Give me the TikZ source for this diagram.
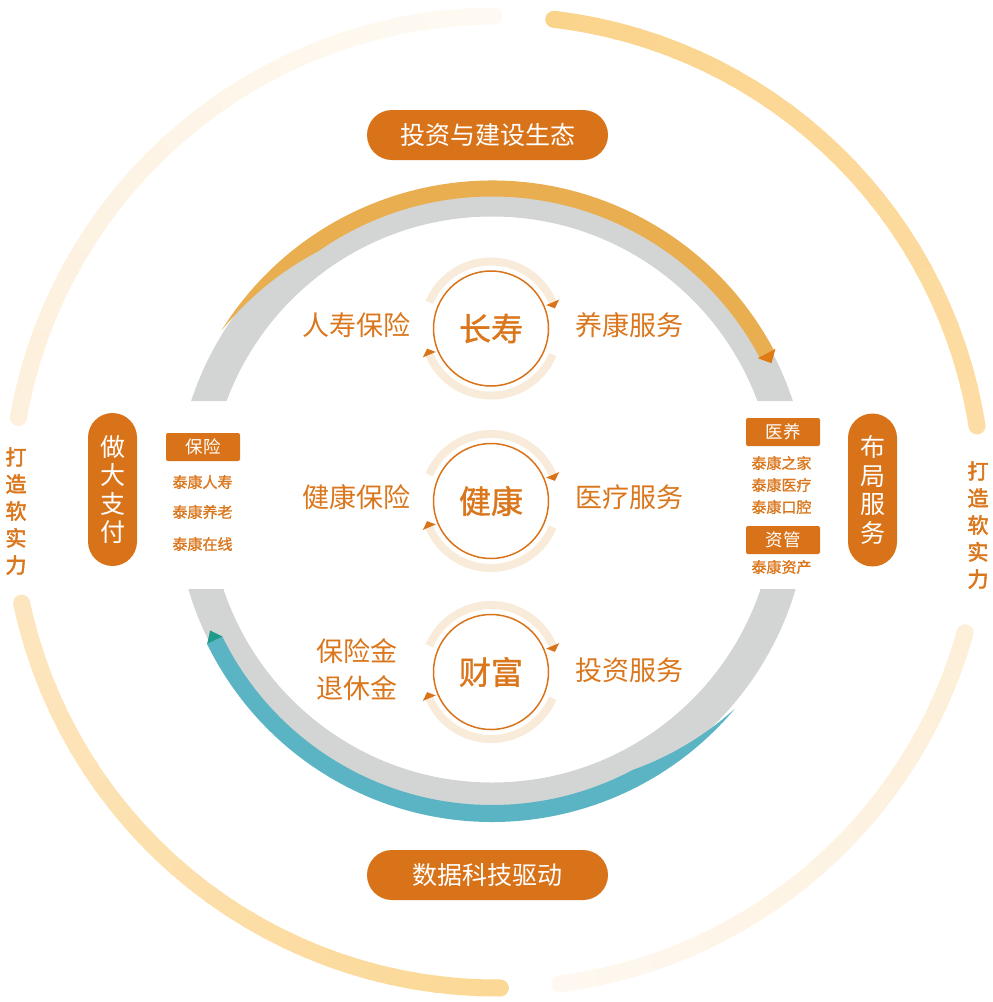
\documentclass[tikz,border=0pt]{standalone}
\usepackage{fontspec}
\newfontfamily\cjk{Noto Sans CJK SC}
\newfontfamily\cjkb[FakeBold=1.2]{Noto Sans CJK SC}
\newfontfamily\cjkbb[FakeBold=2.5]{Noto Sans CJK SC}
\usetikzlibrary{calc}
\definecolor{org}{HTML}{D9731A}
\definecolor{txt}{HTML}{DA761C}
\definecolor{greyring}{HTML}{D3D5D4}
\definecolor{goldarc}{HTML}{E8AE4F}
\definecolor{goldtip}{HTML}{E07A12}
\definecolor{tealarc}{HTML}{5BB4C4}
\definecolor{tealtip}{HTML}{1F9A8B}
\definecolor{pale}{HTML}{F9EBD9}
\tikzset{
  pill/.style={fill=org, text=white, inner sep=0pt, font=\cjk\fontsize{25}{25}\selectfont},
  hpill/.style={pill, minimum width=241pt, minimum height=50pt, rounded corners=25pt},
  vpill/.style={pill, minimum width=49pt, minimum height=153pt, rounded corners=24.5pt, align=center, font=\cjk\fontsize{25}{28.5}\selectfont},
  hdr/.style={fill=org, text=white, inner sep=0pt, minimum width=74pt, minimum height=28pt, rounded corners=2pt, font=\cjk\fontsize{17.5}{17.5}\selectfont},
  item/.style={text=txt, inner sep=0pt, font=\cjkb\fontsize{15}{15}\selectfont},
  lbl/.style={text=txt, inner sep=0pt, font=\cjk\fontsize{27}{37}\selectfont, align=center},
  core/.style={text=txt, inner sep=0pt, font=\cjkb\fontsize{32}{32}\selectfont},
  side/.style={text=txt, inner sep=0pt, align=center, font=\cjkbb\fontsize{21}{27}\selectfont},
}
\begin{document}
\begin{tikzpicture}[x=1pt,y=-1pt]
\useasboundingbox (0,0) rectangle (993,1002);
% ---------- outer gradient ring ----------
\coordinate (OR) at (497,502);
\foreach \sa/\ea/\ca/\cb in {190/269.6/FDF0DC/FEFAF3, 276.7/351/FBD48C/FDDDA5, 15.6/82.6/FDEFD8/FEF8F0, 168/89.6/FDE6BF/FBD895}{
  \definecolor{ca}{HTML}{\ca}\definecolor{cb}{HTML}{\cb}
  \fill[ca] ($(OR)+(\sa:486)$) circle[radius=8.5];
  \fill[cb] ($(OR)+(\ea:486)$) circle[radius=8.5];
  \foreach \i in {0,...,29}{
    \pgfmathsetmacro\dd{(\ea>\sa)?0.4:-0.4}
    \pgfmathsetmacro\aa{\sa+(\ea-\sa)*\i/30}
    \pgfmathsetmacro\ab{\sa+(\ea-\sa)*(\i+1)/30+(\i<29?\dd:0)}
    \pgfmathtruncatemacro\pp{100*\i/29}
    \draw[line width=17pt, draw=cb!\pp!ca] ($(OR)+(\aa:486)$) arc[start angle=\aa, end angle=\ab, radius=486];
  }
}
% ---------- grey ring ----------
\coordinate (G) at (492,499.5);
\begin{scope}
  \clip (0,0) rectangle (993,401) (0,589) rectangle (993,1002);
  \draw[greyring, line width=33.5pt] (G) circle[radius=299.75];
\end{scope}
% ---------- gold arc ----------
\fill[goldarc] ($(G)+(-148:319)$) arc[start angle=-148,end angle=-28,radius=319]
  -- ($(G)+(-28:303)$) arc[start angle=-28,end angle=-125,radius=303]
  -- plot[domain=-125:-148,samples=16] ({492+(303+16*(\x+125)/(-23))*cos(\x)},{499.5+(303+16*(\x+125)/(-23))*sin(\x)}) -- cycle;
\fill[goldtip] ($(G)+(-28:301)$) -- ($(G)+(-28:321)$) -- ($(G)+(-26:311)$) -- cycle;
% ---------- teal arc ----------
\coordinate (T) at (492,505);
\fill[tealarc] ($(T)+(40:317)$) arc[start angle=40,end angle=154,radius=317]
  -- ($(T)+(154:300)$) arc[start angle=154,end angle=62,radius=300]
  -- plot[domain=62:40,samples=16] ({492+(300+17*(62-\x)/22)*cos(\x)},{505+(300+17*(62-\x)/22)*sin(\x)}) -- cycle;
\fill[tealtip] ($(T)+(154:300)$) -- ($(T)+(154:317)$) -- ($(T)+(156:308.5)$) -- cycle;
% ---------- small cycles ----------
\foreach \nm/\yc/\word in {c1/328.5/长寿, c2/501/健康, c3/672/财富}{
  \coordinate (\nm) at (491,\yc);
  \draw[pale, line width=8pt] ($(\nm)+(-157:67)$) arc[start angle=-157,end angle=-23,radius=67];
  \draw[pale, line width=8pt] ($(\nm)+(23:67)$) arc[start angle=23,end angle=157,radius=67];
  \fill[org] ($(\nm)+(-23:60)$) -- ($(\nm)+(-23:74)$) -- ($(\nm)+(-17.5:67)$) -- cycle;
  \fill[org] ($(\nm)+(157:60)$) -- ($(\nm)+(157:74)$) -- ($(\nm)+(162.5:67)$) -- cycle;
  \draw[org, line width=1.5pt] (\nm) circle[radius=57.5];
  \node[core] (\nm w) at (491,\yc) {\word};
}
% ---------- labels ----------
\node[lbl] (l1) at (356.5,325) {人寿保险};
\node[lbl] (r1) at (629.5,325) {养康服务};
\node[lbl] (l2) at (356.5,497) {健康保险};
\node[lbl] (r2) at (629.5,497) {医疗服务};
\node[lbl] (l3) at (356.5,669.5) {保险金\\退休金};
\node[lbl] (r3) at (629.5,670) {投资服务};
% ---------- pills ----------
\node[hpill] (ptop) at (487.5,135) {投资与建设生态};
\node[hpill] (pbot) at (487.5,875) {数据科技驱动};
\node[vpill] (pl) at (112.5,489.5) {做\\大\\支\\付};
\node[vpill] (pr) at (872.5,490) {布\\局\\服\\务};
% ---------- left box ----------
\node[hdr] (hl) at (203,447) {保险};
\node[item] (i1) at (202.5,482) {泰康人寿};
\node[item] (i2) at (202.5,512) {泰康养老};
\node[item] (i3) at (202.5,544) {泰康在线};
% ---------- right box ----------
\node[hdr] (hr1) at (783,432) {医养};
\node[item] (j1) at (781.5,463) {泰康之家};
\node[item] (j2) at (781.5,485) {泰康医疗};
\node[item] (j3) at (781.5,507) {泰康口腔};
\node[hdr] (hr2) at (783,540) {资管};
\node[item] (j4) at (781.5,567) {泰康资产};
% ---------- side texts ----------
\node[side] (sl) at (16,511) {打\\造\\软\\实\\力};
\node[side] (sr) at (978,525) {打\\造\\软\\实\\力};
\end{tikzpicture}
\end{document}
